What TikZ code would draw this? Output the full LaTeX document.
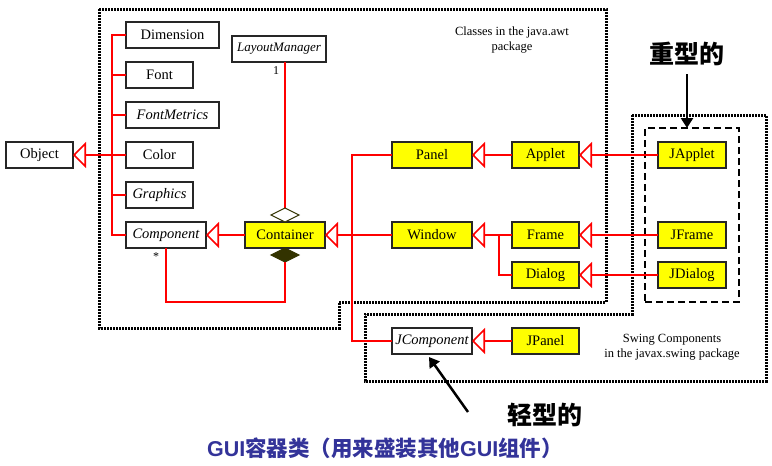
\documentclass[tikz,border=0pt]{standalone}
\usepackage{fontspec}
\setmainfont{Liberation Serif}
\newfontfamily\cjk{Noto Sans CJK SC}
\newfontfamily\arial{Liberation Sans}
\usetikzlibrary{arrows.meta}
\definecolor{boxyellow}{HTML}{FFFF00}
\definecolor{diamondc}{HTML}{333300}
\definecolor{titleblue}{HTML}{333399}
\definecolor{linered}{HTML}{FF0000}
\begin{document}
\begin{tikzpicture}[x=1pt,y=-1pt,
 cls/.style={draw=black!85, line width=1.2pt, fill=white, inner sep=0pt, outer sep=0pt, minimum height=26pt, font=\fontsize{14.5}{16}\selectfont},
 yel/.style={cls, fill=boxyellow},
 rl/.style={draw=linered, line width=1.6pt},
 gen/.style={rl, -{Triangle[open, length=13pt, width=26pt, fill=white]}},
 border/.style={draw=black, line width=3pt, dash pattern=on 2pt off 1pt},
 blk/.style={draw=black, line width=2.5pt, -{Triangle[length=10pt,width=12pt]}},
 note/.style={font=\fontsize{12.5}{15}\selectfont, align=center, inner sep=0pt},
 big/.style={font=\fontsize{25}{28}\selectfont\cjk\bfseries, inner sep=0pt},
]
\useasboundingbox (0,0) rectangle (772,466);
% package borders
\draw[border] (99,9) -- (606,9) -- (606,302) -- (339,302) -- (339,328) -- (99,328) -- cycle;
\draw[border] (632,115) -- (766,115) -- (766,381) -- (365,381) -- (365,314) -- (632,314) -- cycle;
\node[draw=black, line width=2.5pt, dash pattern=on 7pt off 4pt, minimum width=94pt, minimum height=174pt, inner sep=0pt, outer sep=0pt] (hw) at (692,215) {};

% classes
\node[cls, minimum width=67pt] (obj) at (39.5,155) {Object};
\node[cls, minimum width=93pt] (dim) at (172.5,35) {Dimension};
\node[cls, minimum width=67pt] (font) at (159.5,75) {Font};
\node[cls, minimum width=93pt] (fm) at (172.5,115) {\itshape FontMetrics};
\node[cls, minimum width=67pt] (color) at (159.5,155) {Color};
\node[cls, minimum width=67pt] (gfx) at (159.5,195) {\itshape Graphics};
\node[cls, minimum width=80pt] (comp) at (166,235) {\itshape Component};
\node[cls, minimum width=94pt, font=\fontsize{13}{15}\selectfont\itshape] (lm) at (279,49) {LayoutManager};
\node[yel, minimum width=80pt] (cont) at (285,235) {Container};
\node[yel, minimum width=80pt] (panel) at (432,155) {Panel};
\node[yel, minimum width=80pt] (win) at (432,235) {Window};
\node[yel, minimum width=67pt] (applet) at (545.5,155) {Applet};
\node[yel, minimum width=67pt] (frame) at (545.5,235) {Frame};
\node[yel, minimum width=67pt] (dialog) at (545.5,275) {Dialog};
\node[yel, minimum width=68pt] (japplet) at (692,155) {JApplet};
\node[yel, minimum width=68pt] (jframe) at (692,235) {JFrame};
\node[yel, minimum width=68pt] (jdialog) at (692,275) {JDialog};
\node[cls, minimum width=80pt] (jcomp) at (432,341) {\itshape JComponent};
\node[yel, minimum width=67pt] (jpanel) at (545.5,341) {JPanel};

% inheritance from Object
\draw[rl] (dim.west) -- ++(-14,0) |- (comp.west);
\draw[rl] (font.west) -- ++(-14,0);
\draw[rl] (fm.west) -- ++(-14,0);
\draw[rl] (gfx.west) -- ++(-14,0);
\draw[gen] (color.west) -- (obj.east);

% Container relations
\draw[gen] (cont.west) -- (comp.east);
\draw[gen] (win.west) -- (cont.east);
\draw[rl] (panel.west) -- ++(-40,0) |- (jcomp.west);
\draw[gen] (applet.west) -- (panel.east);
\draw[gen] (frame.west) -- (win.east);
\draw[rl] (dialog.west) -- ++(-13,0) -- ++(0,-40);
\draw[gen] (japplet.west) -- (applet.east);
\draw[gen] (jframe.west) -- (frame.east);
\draw[gen] (jdialog.west) -- (dialog.east);
\draw[gen] (jpanel.west) -- (jcomp.east);

% aggregation / composition
\coordinate (dtop) at (285,208);
\coordinate (dbot) at (285,262);
\draw[rl] (dtop |- lm.south) -- (dtop);
\draw[draw=diamondc, line width=1.1pt, fill=white] (cont.north) -- ++(-14,-7) -- ++(14,-7) -- ++(14,7) -- cycle;
\draw[draw=diamondc, line width=1.1pt, fill=diamondc] (cont.south) -- ++(-14,7) -- ++(14,7) -- ++(14,-7) -- cycle;
\draw[rl] (dbot) -- ++(0,40) -| (comp.south);
\node[font=\fontsize{12}{14}\selectfont, inner sep=0pt] (one) at (276,71) {1};
\node[font=\fontsize{12}{14}\selectfont, inner sep=0pt] (star) at (156,257) {*};

% package notes
\node[note] (awtlbl) at (512,40.5) {Classes in the java.awt\\package};
\node[note] (swlbl) at (672,347.5) {Swing Components\\in the javax.swing package};

% heavy / light labels
\node[big] (heavy) at (687,54) {重型的};
\draw[blk, shorten <=8pt] (heavy.south) -- (heavy.south |- hw.north);
\node[big] (light) at (545,415) {轻型的};
\coordinate (lstart) at (468,412);
\coordinate (ltip) at (429,357);
\draw[blk] (lstart) -- (ltip);

% title
\node[inner sep=0pt, text=titleblue, font=\fontsize{21.5}{24}\selectfont\bfseries] (title) at (385,448) {{\arial GUI}{\cjk 容器类（用来盛装其他}{\arial GUI}{\cjk 组件）}};
\end{tikzpicture}
\end{document}
